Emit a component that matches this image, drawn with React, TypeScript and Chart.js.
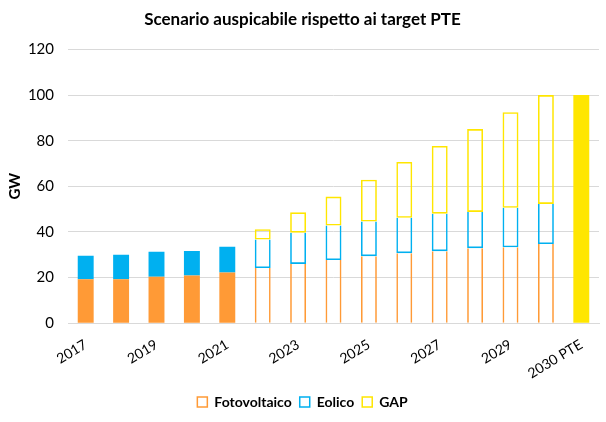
import React, { useEffect, useRef } from "react";
import { Chart, registerables } from "chart.js";

Chart.register(...registerables);

const categories = [
  "2017", "2018", "2019", "2020", "2021", "2022", "2023", "2024",
  "2025", "2026", "2027", "2028", "2029", "2030", "2030 PTE",
];
const fotovoltaico = [19.3, 19.3, 20.4, 20.9, 22.2, 24.2, 26.0, 27.7, 29.4, 30.7, 31.6, 32.9, 33.3, 34.7, 0];
const eolico = [10.3, 10.7, 10.9, 10.8, 11.3, 12.5, 13.7, 15.1, 15.2, 15.5, 16.4, 15.9, 17.3, 17.6, 0];
const gap = [0, 0, 0, 0, 0, 4.5, 8.9, 12.7, 18.3, 24.5, 29.7, 36.3, 41.9, 47.7, 100];
// true = historical/target (filled), false = scenario (outlined)
const filled = [true, true, true, true, true, false, false, false, false, false, false, false, false, false, true];
const yTicks = [0, 20, 40, 60, 80, 100, 120];

const ORANGE = "#FF9A36";
const BLUE = "#00B0F0";
const YELLOW = "#FFE600";
const FONT = "Lato, 'Open Sans', sans-serif";
const BW = 1.6;

function makeDataset(
  label: string,
  data: number[],
  color: string,
  edges: { top: number; right: number; bottom: number; left: number }
) {
  return {
    label,
    data,
    backgroundColor: data.map((v, i) => (filled[i] ? color : "rgba(0,0,0,0)")),
    borderColor: color,
    borderWidth: data.map((v, i) =>
      filled[i] || v === 0
        ? 0
        : { top: edges.top * BW, right: edges.right * BW, bottom: edges.bottom * BW, left: edges.left * BW }
    ),
    borderSkipped: false as const,
    categoryPercentage: 1,
    barPercentage: 0.45,
  };
}

export default function App() {
  const ref = useRef<HTMLCanvasElement | null>(null);
  useEffect(() => {
    if (!ref.current) return;
    const chart = new Chart(ref.current, {
      type: "bar",
      data: {
        labels: categories,
        datasets: [
          makeDataset("Fotovoltaico", fotovoltaico, ORANGE, { top: 0, right: 1, bottom: 0, left: 1 }),
          makeDataset("Eolico", eolico, BLUE, { top: 0, right: 1, bottom: 1, left: 1 }),
          makeDataset("GAP", gap, YELLOW, { top: 1, right: 1, bottom: 1, left: 1 }),
        ],
      },
      options: {
        animation: false,
        responsive: false,
        maintainAspectRatio: false,
        layout: { padding: { left: 6, right: 7, top: 3, bottom: 3 } },
        plugins: {
          title: {
            display: true,
            text: "Scenario auspicabile rispetto ai target PTE",
            color: "#000",
            font: { family: FONT, size: 17, weight: "bold" },
            padding: { top: 6, bottom: 20 },
          },
          legend: {
            position: "bottom",
            labels: {
              color: "#000",
              font: { family: FONT, size: 14, weight: "bold" },
              boxWidth: 10,
              boxHeight: 10,
              padding: 8,
              generateLabels: () =>
                [
                  ["Fotovoltaico", ORANGE],
                  ["Eolico", BLUE],
                  ["GAP", YELLOW],
                ].map(([t, c], i) => ({
                  text: t,
                  fillStyle: "rgba(0,0,0,0)",
                  strokeStyle: c,
                  lineWidth: 1.5,
                  datasetIndex: i,
                  hidden: false,
                  fontColor: "#000",
                })),
            },
          },
          tooltip: { enabled: false },
        },
        scales: {
          x: {
            stacked: true,
            grid: { display: false },
            border: { display: true, color: "#D9D9D9", width: 1 },
            afterFit: (axis: any) => {
              axis.paddingLeft = 0;
              axis.paddingRight = 0;
            },
            ticks: {
              color: "#000",
              font: { family: FONT, size: 14 },
              autoSkip: false,
              minRotation: 31,
              maxRotation: 31,
              padding: 5,
              callback: (_v: any, i: number) => (i % 2 === 0 ? categories[i] : ""),
            },
          },
          y: {
            stacked: true,
            min: 0,
            max: 120,
            afterBuildTicks: (axis: any) => {
              axis.ticks = yTicks.map((v) => ({ value: v }));
            },
            afterFit: (axis: any) => {
              axis.width = 62;
            },
            grid: { color: "#D9D9D9", lineWidth: 1, drawTicks: false },
            border: { display: false },
            ticks: {
              color: "#000",
              font: { family: FONT, size: 15 },
              padding: 14,
            },
            title: {
              display: true,
              text: "GW",
              color: "#000",
              font: { family: FONT, size: 15, weight: "bold" },
              padding: { top: 0, bottom: 4 },
            },
          },
        },
      },
    });
    return () => chart.destroy();
  }, []);
  return (
    <div style={{ position: "fixed", left: 0, top: 0, width: 606, height: 422, background: "#fff" }}>
      <canvas ref={ref} width={606} height={422} style={{ width: 606, height: 422 }} />
    </div>
  );
}
